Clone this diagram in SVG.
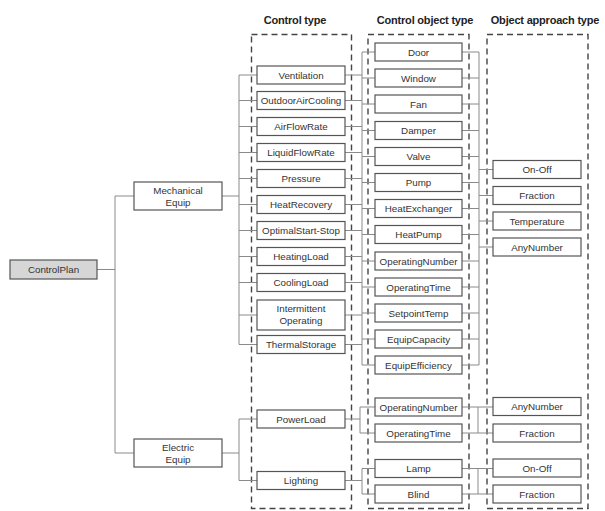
<svg xmlns="http://www.w3.org/2000/svg" width="605" height="511" viewBox="0 0 605 511">
  <style>
    .hdr { font-family: "Liberation Sans", Arial, sans-serif; font-size: 11px; font-weight: bold; fill: #222; text-anchor: middle; letter-spacing: -0.2px; }
    .lbl { font-family: "Liberation Sans", Arial, sans-serif; font-size: 9.8px; fill: #333; text-anchor: middle; }
    .box { fill: #fff; stroke: #555; stroke-width: 1.2; }
    .root { fill: #d6d6d6; stroke: #555; stroke-width: 1.2; }
    .grp { fill: none; stroke: #444; stroke-width: 1.4; stroke-dasharray: 6 4; }
    .wire { fill: none; stroke: #8a8a8a; stroke-width: 1; }
  </style>
  <rect width="605" height="511" fill="#fff"/>

  <!-- column headers -->
  <text class="hdr" x="295" y="24">Control type</text>
  <text class="hdr" x="425" y="24">Control object type</text>
  <text class="hdr" x="545" y="24">Object approach type</text>

  <!-- dashed column frames -->
  <g id="frames">
    <rect class="grp" x="251.5" y="34.5" width="100" height="474"/>
    <rect class="grp" x="368" y="34.5" width="101" height="474"/>
    <rect class="grp" x="487" y="34.5" width="101" height="474"/>
  </g>

  <!-- connectors -->
  <g id="connectors" class="wire">
    <!-- root to equipment groups -->
    <path d="M97 269.5H115M115 196V453M115 196H134M115 453H134"/>
    <!-- mechanical equip to control types -->
    <path d="M222 196H239M239 75V344.5"/>
    <path d="M239 75H257M239 100.5H257M239 126.5H257M239 152.5H257M239 178.5H257M239 204.5H257M239 230.5H257M239 256.5H257M239 282.5H257M239 315H257M239 344.5H257"/>
    <!-- electric equip to control types -->
    <path d="M222 453H239M239 419V480.5M239 419H257M239 480.5H257"/>
    <!-- mechanical control types to control objects -->
    <path d="M345 75H362M345 100.5H362M345 126.5H362M345 152.5H362M345 178.5H362M345 204.5H362M345 230.5H362M345 256.5H362M345 282.5H362M345 315H362M345 344.5H362"/>
    <path d="M362 52V365"/>
    <path d="M362 52H375M362 78H375M362 104H375M362 130.5H375M362 156.5H375M362 182.5H375M362 208.5H375M362 234.5H375M362 261H375M362 287H375M362 313H375M362 339H375M362 365H375"/>
    <!-- power load / lighting to control objects -->
    <path d="M345 419H360M360 407V433M360 407H375M360 433H375"/>
    <path d="M345 480.5H362M362 468.5V494M362 468.5H375M362 494H375"/>
    <!-- mechanical control objects to approach types -->
    <path d="M462 52H479M462 78H479M462 104H479M462 130.5H479M462 156.5H479M462 182.5H479M462 208.5H479M462 234.5H479M462 261H479M462 287H479M462 313H479M462 339H479M462 365H479"/>
    <path d="M479 52V365"/>
    <path d="M479 169.5H493M479 195.5H493M479 221H493M479 247H493"/>
    <!-- electric control objects to approach types -->
    <path d="M462 407H478M462 433H478M478 407V433M478 407H493M478 433H493"/>
    <path d="M462 468.5H478M462 494H478M478 468.5V494M478 468.5H493M478 494H493"/>
  </g>

  <!-- root -->
  <g id="n-controlplan">
    <rect class="root" x="10" y="260" width="87" height="19"/>
    <text class="lbl" x="53.5" y="273">ControlPlan</text>
  </g>

  <!-- equipment groups -->
  <g id="n-mechanical">
    <rect class="box" x="134" y="182" width="88" height="28"/>
    <text class="lbl" x="178" y="193.5">Mechanical</text>
    <text class="lbl" x="178" y="205.5">Equip</text>
  </g>
  <g id="n-electric">
    <rect class="box" x="134" y="439" width="88" height="28"/>
    <text class="lbl" x="178" y="450.5">Electric</text>
    <text class="lbl" x="178" y="462.5">Equip</text>
  </g>

  <!-- control types -->
  <g id="n-ventilation"><rect class="box" x="257" y="66" width="88" height="18"/><text class="lbl" x="301" y="78.5">Ventilation</text></g>
  <g id="n-outdoor-air-cooling"><rect class="box" x="257" y="91.5" width="88" height="18"/><text class="lbl" x="301" y="104">OutdoorAirCooling</text></g>
  <g id="n-air-flow-rate"><rect class="box" x="257" y="117.5" width="88" height="18"/><text class="lbl" x="301" y="130">AirFlowRate</text></g>
  <g id="n-liquid-flow-rate"><rect class="box" x="257" y="143.5" width="88" height="18"/><text class="lbl" x="301" y="156">LiquidFlowRate</text></g>
  <g id="n-pressure"><rect class="box" x="257" y="169.5" width="88" height="18"/><text class="lbl" x="301" y="182">Pressure</text></g>
  <g id="n-heat-recovery"><rect class="box" x="257" y="195.5" width="88" height="18"/><text class="lbl" x="301" y="208">HeatRecovery</text></g>
  <g id="n-optimal-start-stop"><rect class="box" x="257" y="221.5" width="88" height="18"/><text class="lbl" x="301" y="234">OptimalStart-Stop</text></g>
  <g id="n-heating-load"><rect class="box" x="257" y="247.5" width="88" height="18"/><text class="lbl" x="301" y="260">HeatingLoad</text></g>
  <g id="n-cooling-load"><rect class="box" x="257" y="273.5" width="88" height="18"/><text class="lbl" x="301" y="286">CoolingLoad</text></g>
  <g id="n-intermittent">
    <rect class="box" x="257" y="300" width="88" height="30"/>
    <text class="lbl" x="301" y="312">Intermittent</text>
    <text class="lbl" x="301" y="324">Operating</text>
  </g>
  <g id="n-thermal-storage"><rect class="box" x="257" y="335.5" width="88" height="18"/><text class="lbl" x="301" y="348">ThermalStorage</text></g>
  <g id="n-power-load"><rect class="box" x="257" y="410" width="88" height="18"/><text class="lbl" x="301" y="422.5">PowerLoad</text></g>
  <g id="n-lighting"><rect class="box" x="257" y="471.5" width="88" height="18"/><text class="lbl" x="301" y="484">Lighting</text></g>

  <!-- control objects -->
  <g id="o-door"><rect class="box" x="375" y="43" width="87" height="18"/><text class="lbl" x="418.5" y="55.5">Door</text></g>
  <g id="o-window"><rect class="box" x="375" y="69" width="87" height="18"/><text class="lbl" x="418.5" y="81.5">Window</text></g>
  <g id="o-fan"><rect class="box" x="375" y="95" width="87" height="18"/><text class="lbl" x="418.5" y="107.5">Fan</text></g>
  <g id="o-damper"><rect class="box" x="375" y="121.5" width="87" height="18"/><text class="lbl" x="418.5" y="134">Damper</text></g>
  <g id="o-valve"><rect class="box" x="375" y="147.5" width="87" height="18"/><text class="lbl" x="418.5" y="160">Valve</text></g>
  <g id="o-pump"><rect class="box" x="375" y="173.5" width="87" height="18"/><text class="lbl" x="418.5" y="186">Pump</text></g>
  <g id="o-heat-exchanger"><rect class="box" x="375" y="199.5" width="87" height="18"/><text class="lbl" x="418.5" y="212">HeatExchanger</text></g>
  <g id="o-heat-pump"><rect class="box" x="375" y="225.5" width="87" height="18"/><text class="lbl" x="418.5" y="238">HeatPump</text></g>
  <g id="o-operating-number"><rect class="box" x="375" y="252" width="87" height="18"/><text class="lbl" x="418.5" y="264.5">OperatingNumber</text></g>
  <g id="o-operating-time"><rect class="box" x="375" y="278" width="87" height="18"/><text class="lbl" x="418.5" y="290.5">OperatingTime</text></g>
  <g id="o-setpoint-temp"><rect class="box" x="375" y="304" width="87" height="18"/><text class="lbl" x="418.5" y="316.5">SetpointTemp</text></g>
  <g id="o-equip-capacity"><rect class="box" x="375" y="330" width="87" height="18"/><text class="lbl" x="418.5" y="342.5">EquipCapacity</text></g>
  <g id="o-equip-efficiency"><rect class="box" x="375" y="356" width="87" height="18"/><text class="lbl" x="418.5" y="368.5">EquipEfficiency</text></g>
  <g id="o-operating-number-2"><rect class="box" x="375" y="398" width="87" height="18"/><text class="lbl" x="418.5" y="410.5">OperatingNumber</text></g>
  <g id="o-operating-time-2"><rect class="box" x="375" y="424" width="87" height="18"/><text class="lbl" x="418.5" y="436.5">OperatingTime</text></g>
  <g id="o-lamp"><rect class="box" x="375" y="459.5" width="87" height="18"/><text class="lbl" x="418.5" y="472">Lamp</text></g>
  <g id="o-blind"><rect class="box" x="375" y="485" width="87" height="18"/><text class="lbl" x="418.5" y="497.5">Blind</text></g>

  <!-- approach types -->
  <g id="a-on-off"><rect class="box" x="493" y="160.5" width="88" height="18"/><text class="lbl" x="537" y="173">On-Off</text></g>
  <g id="a-fraction"><rect class="box" x="493" y="186.5" width="88" height="18"/><text class="lbl" x="537" y="199">Fraction</text></g>
  <g id="a-temperature"><rect class="box" x="493" y="212" width="88" height="18"/><text class="lbl" x="537" y="224.5">Temperature</text></g>
  <g id="a-any-number"><rect class="box" x="493" y="238" width="88" height="18"/><text class="lbl" x="537" y="250.5">AnyNumber</text></g>
  <g id="a-any-number-2"><rect class="box" x="493" y="397.5" width="88" height="18"/><text class="lbl" x="537" y="410">AnyNumber</text></g>
  <g id="a-fraction-2"><rect class="box" x="493" y="424" width="88" height="18"/><text class="lbl" x="537" y="436.5">Fraction</text></g>
  <g id="a-on-off-2"><rect class="box" x="493" y="459" width="88" height="18"/><text class="lbl" x="537" y="471.5">On-Off</text></g>
  <g id="a-fraction-3"><rect class="box" x="493" y="485" width="88" height="18"/><text class="lbl" x="537" y="497.5">Fraction</text></g>
</svg>
